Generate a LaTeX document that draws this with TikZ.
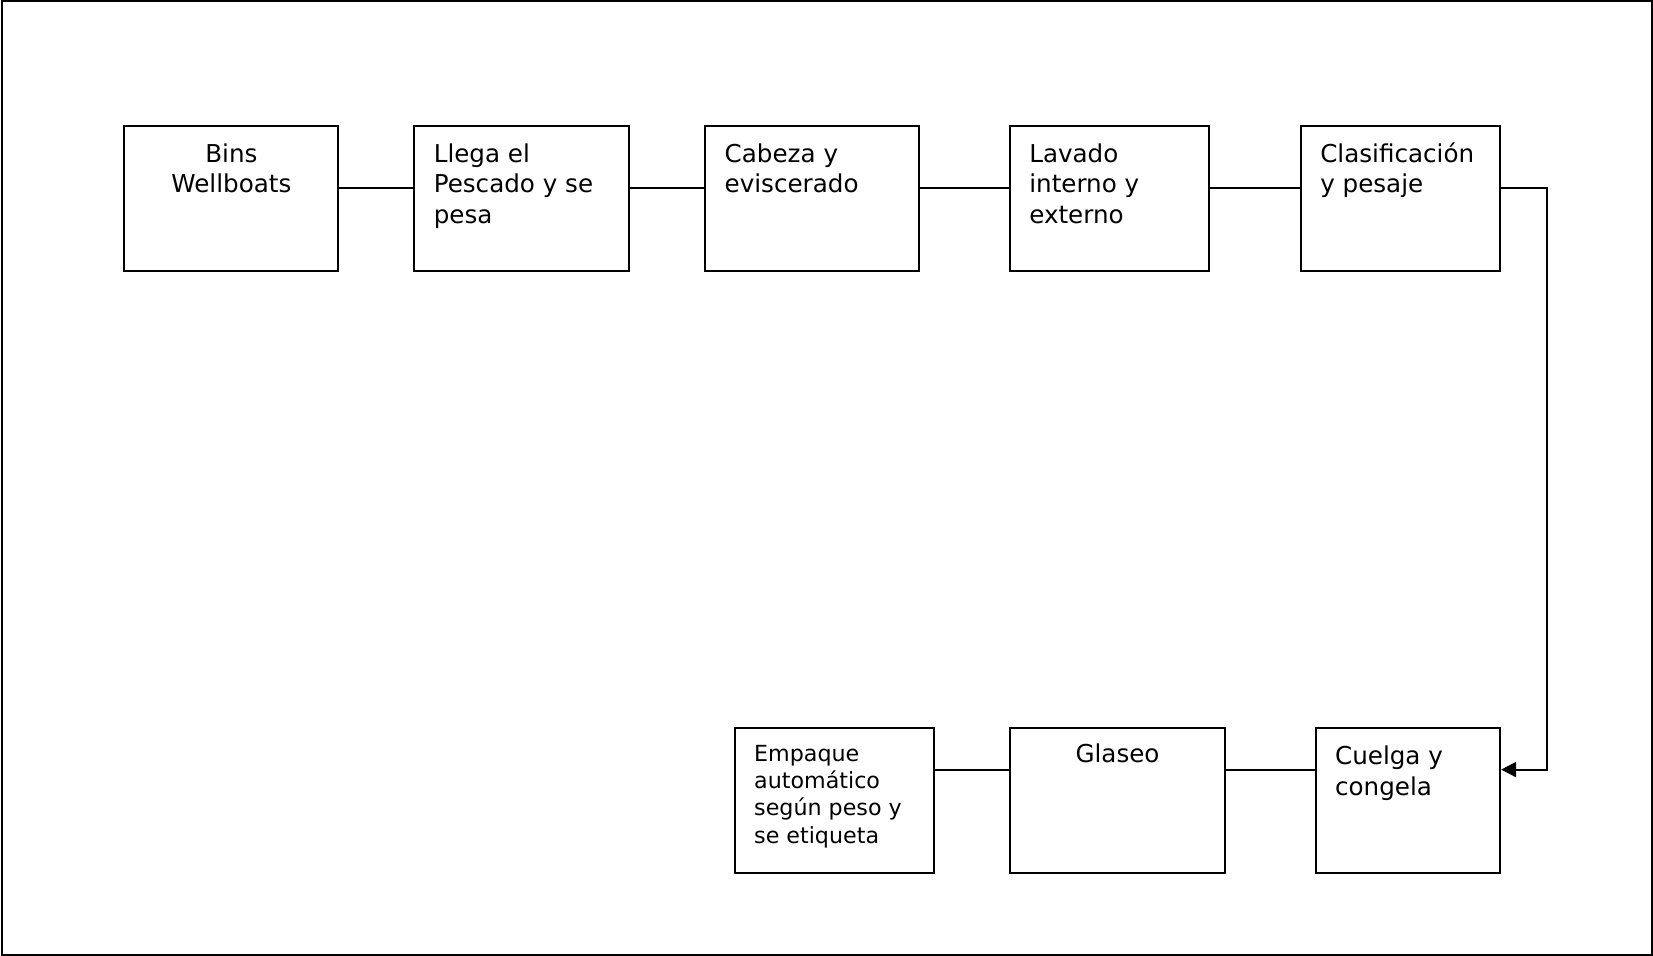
\documentclass[tikz,border=0pt]{standalone}
\usepackage{fontspec}
\setmainfont{DejaVu Sans}
\usetikzlibrary{calc, arrows.meta}

\newcommand{\alto}{\rule{0pt}{10pt}}

\tikzset{
  caja/.style={draw, line width=1pt, rectangle, inner sep=0pt},
  texto/.style={inner sep=0pt, align=left, font=\fontsize{12.3}{15.3}\selectfont},
  chico/.style={inner sep=0pt, align=left, font=\fontsize{11.1}{13.6}\selectfont},
  linea/.style={line width=1pt}
}

\begin{document}
\begin{tikzpicture}[x=0.5pt, y=-0.5pt]
                \useasboundingbox (0,0) rectangle (1653,956);
                \draw[line width=1pt] (1.5,1.5) rectangle (1651.5,954.5);

                % fila de arriba
                \node[caja, minimum width=107pt, minimum height=72.2pt] (bins) at (231.4,198.7) {};
                \node[caja, minimum width=107.5pt, minimum height=72.2pt] (llega) at (521.9,198.7) {};
                \node[caja, minimum width=107pt, minimum height=72.2pt] (cabeza) at (812.3,198.7) {};
                \node[caja, minimum width=99.7pt, minimum height=72.2pt] (lavado) at (1109.6,198.7) {};
                \node[caja, minimum width=99.6pt, minimum height=72.2pt] (clasif) at (1400.5,198.7) {};

                % fila de abajo
                \node[caja, minimum width=99.6pt, minimum height=72.7pt] (empaque) at (834.4,800.2) {};
                \node[caja, minimum width=107.5pt, minimum height=72.7pt] (glaseo) at (1117.5,800.2) {};
                \node[caja, minimum width=92.2pt, minimum height=72.7pt] (cuelga) at (1407.9,800.2) {};

                % textos
                \node[texto, align=center, anchor=north] (tBins) at ($(bins.north)+(0,16.5)$) {\alto Bins\\Wellboats};
                \node[texto, anchor=north west] (tLlega) at ($(llega.north west)+(20,16.5)$) {\alto Llega el\\Pescado y se\\pesa};
                \node[texto, anchor=north west] (tCabeza) at ($(cabeza.north west)+(20,16.5)$) {\alto Cabeza y\\eviscerado};
                \node[texto, anchor=north west] (tLavado) at ($(lavado.north west)+(20,16.5)$) {\alto Lavado\\interno y\\externo};
                \node[texto, anchor=north west] (tClasif) at ($(clasif.north west)+(20,16.5)$) {\alto Clasificación\\y pesaje};
                \node[chico, anchor=north west] (tEmpaque) at ($(empaque.north west)+(20,14.5)$) {\alto Empaque\\automático\\según peso y\\se etiqueta};
                \node[texto, align=center, anchor=north] (tGlaseo) at ($(glaseo.north)+(0,16)$) {\alto Glaseo};
                \node[texto, anchor=north west] (tCuelga) at ($(cuelga.north west)+(20,18)$) {\alto Cuelga y\\congela};

                % conectores
                \draw[linea] ([yshift=5.55pt]bins.east) -- ([yshift=5.55pt]llega.west);
                \draw[linea] ([yshift=5.55pt]llega.east) -- ([yshift=5.55pt]cabeza.west);
                \draw[linea] ([yshift=5.55pt]cabeza.east) -- ([yshift=5.55pt]lavado.west);
                \draw[linea] ([yshift=5.55pt]lavado.east) -- ([yshift=5.55pt]clasif.west);
                \draw[linea, -{Triangle[length=7.5pt, width=7.5pt]}] ([yshift=5.55pt]clasif.east) -- ++(22.7pt,0) |- ([yshift=15.3pt]cuelga.east);
                \draw[linea] ([yshift=15.3pt]empaque.east) -- ([yshift=15.3pt]glaseo.west);
                \draw[linea] ([yshift=15.3pt]glaseo.east) -- ([yshift=15.3pt]cuelga.west);
            \end{tikzpicture}
\end{document}
